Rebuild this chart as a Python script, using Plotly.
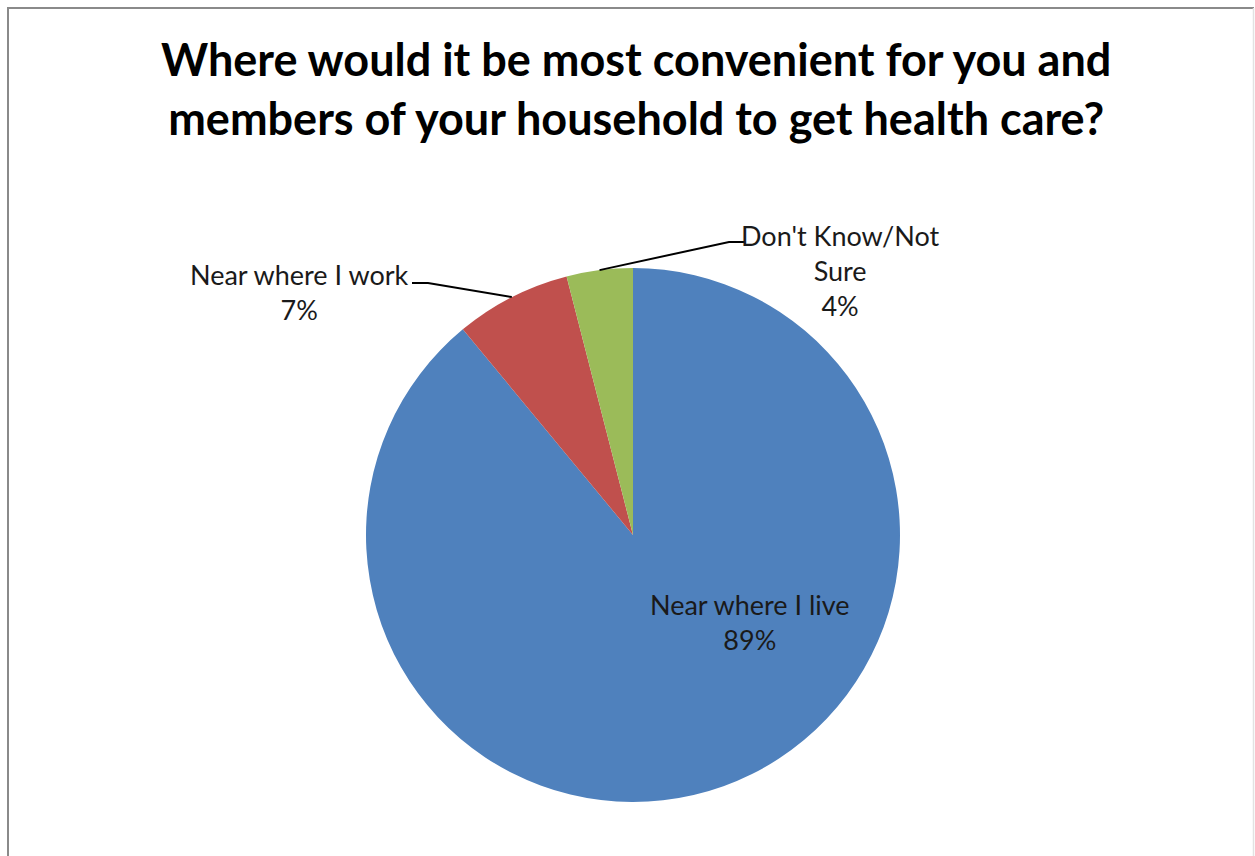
import math
import plotly.graph_objects as go

W, H = 1255, 856

title_text = "Where would it be most convenient for you and<br>members of your household to get health care?"
categories = ["Near where I live", "Near where I work", "Don't Know/Not Sure"]
label_texts = ["Near where I live", "Near where I work", "Don't Know/Not<br>Sure"]
values = [89, 7, 4]
colors = ["#4F81BD", "#C0504D", "#9BBB59"]

# pie geometry in pixels
cx, cy, r = 633, 535, 267

def px(x):
    return x / W

def py(y):
    return 1 - y / H

fig = go.Figure()
fig.add_trace(go.Pie(
    labels=categories, values=values, sort=False, direction="clockwise", rotation=0,
    marker=dict(colors=colors, line=dict(width=0)),
    textinfo="none", hoverinfo="label+percent", showlegend=False,
    domain=dict(x=[px(cx - r), px(cx + r)], y=[py(cy + r), py(cy - r)]),
))

font = "Lato, 'Open Sans', sans-serif"
tc = "#1a1a1a"

# slice midpoints on edge
total = sum(values)
cum = 0
mids = []
for v in values:
    a = (cum + v / 2) / total * 2 * math.pi
    mids.append((cx + r * math.sin(a), cy - r * math.cos(a)))
    cum += v

shapes = []
# border frame
shapes.append(dict(type="line", xref="paper", yref="paper", x0=px(8), x1=px(8), y0=0, y1=py(7),
                   line=dict(color="#8a8a8a", width=2)))
shapes.append(dict(type="line", xref="paper", yref="paper", x0=px(7), x1=px(1254), y0=py(8), y1=py(8),
                   line=dict(color="#8a8a8a", width=2)))
shapes.append(dict(type="line", xref="paper", yref="paper", x0=px(1253.5), x1=px(1253.5), y0=0, y1=py(8),
                   line=dict(color="#e2e2e2", width=1.5)))

# leader for "Near where I work"
mx, my = mids[1]
shapes.append(dict(type="path", xref="paper", yref="paper",
                   path=f"M {px(mx)},{py(my)} L {px(428)},{py(283)} L {px(412)},{py(283)}",
                   line=dict(color="#000000", width=2)))
# leader for "Don't Know/Not Sure"
mx, my = mids[2]
shapes.append(dict(type="path", xref="paper", yref="paper",
                   path=f"M {px(mx)},{py(my)} L {px(729)},{py(242)} L {px(744)},{py(242)}",
                   line=dict(color="#000000", width=2)))

annotations = []
annotations.append(dict(x=px(636), y=py(89), xref="paper", yref="paper", text="<b>" + title_text + "</b>",
                        showarrow=False, font=dict(family=font, size=45, color="#000"), align="center",
                        xanchor="center", yanchor="middle"))
label_pos = [(750, 622), (299, 292), (840, 270)]
for txt, v, (lx, ly) in zip(label_texts, values, label_pos):
    annotations.append(dict(x=px(lx), y=py(ly), xref="paper", yref="paper",
                            text=f"{txt}<br>{v}%", showarrow=False,
                            xanchor="center", yanchor="middle",
                            font=dict(family=font, size=27, color=tc), align="center"))

fig.update_layout(width=W, height=H, margin=dict(l=0, r=0, t=0, b=0),
                  paper_bgcolor="#ffffff", plot_bgcolor="#ffffff",
                  shapes=shapes, annotations=annotations)
fig.write_html("out.html")
